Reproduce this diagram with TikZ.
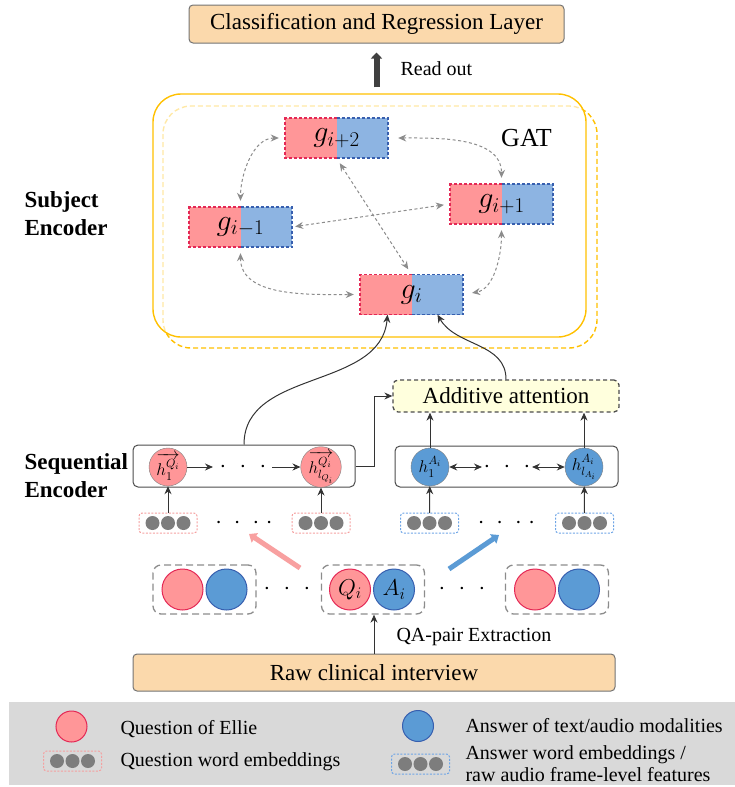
\RequirePackage{fix-cm}
\documentclass[tikz,border=0pt]{standalone}
\usepackage{amsmath}
\usepackage{fontspec}
\setmainfont{Liberation Serif}
\usetikzlibrary{arrows.meta,calc}
\definecolor{qfill}{RGB}{255,150,152}
\definecolor{qborder}{RGB}{228,40,85}
\definecolor{afill}{RGB}{141,180,226}
\definecolor{ablue}{RGB}{91,155,213}
\definecolor{aborder}{RGB}{55,95,175}
\definecolor{boxbg}{RGB}{251,217,172}
\definecolor{attbg}{RGB}{255,255,221}
\definecolor{gatline}{RGB}{255,192,0}
\definecolor{legendbg}{RGB}{217,217,217}
\definecolor{embdot}{RGB}{125,125,125}
\definecolor{qembline}{RGB}{245,160,160}
\definecolor{aembline}{RGB}{110,165,230}
\definecolor{pinkarrow}{RGB}{248,160,160}
\def\Half{51.5}
\newcommand{\fs}[1]{\fontsize{#1}{#1}\selectfont}
\newcommand{\gcell}[4]{%
  \fill[qfill] (#2-\Half,#3-20) rectangle (#2,#3+20);
  \fill[afill] (#2,#3-20) rectangle (#2+\Half,#3+20);
  \draw[qborder,gdash] (#2,#3+20) -| (#2-\Half,#3-20) -- (#2,#3-20);
  \draw[aborder,gdash] (#2,#3+20) -| (#2+\Half,#3-20) -- (#2,#3-20);
  \node[gtext] (#1) at (#2,#3) {#4};
}
\tikzset{
  gdash/.style={dash pattern=on 3pt off 2pt, line width=1.2pt},
  gtext/.style={minimum width=103, minimum height=40, inner sep=0, font=\fs{30}},
  titlebox/.style={draw=black!55, fill=boxbg, rounded corners=4pt, line width=1pt, inner sep=2pt, font=\fs{23}},
  attbox/.style={draw=black!70, fill=attbg, dash pattern=on 4pt off 3pt, rounded corners=5pt, line width=1.3pt, inner sep=2pt, font=\fs{23}},
  encbox/.style={draw=black!70, rounded corners=5pt, line width=1pt},
  hq/.style={circle, draw=black!50, fill=qfill, minimum size=38, inner sep=0, font=\fs{17}},
  ha/.style={circle, draw=black!50, fill=ablue, minimum size=38, inner sep=0, font=\fs{17}},
  pair/.style={draw=black!45, dash pattern=on 7pt off 4pt, rounded corners=8pt, line width=1.3pt, minimum width=103, minimum height=49},
  qball/.style={circle, draw=qborder, fill=qfill, minimum size=41, inner sep=0, line width=1pt, font=\fs{23}},
  aball/.style={circle, draw=aborder, fill=ablue, minimum size=41, inner sep=0, line width=1pt, font=\fs{23}},
  gatedge/.style={black!45, dash pattern=on 3pt off 2.5pt, line width=1pt, {Stealth[length=8pt,width=7pt]}-{Stealth[length=8pt,width=7pt]}, shorten <=6pt, shorten >=6pt},
  link/.style={black!80, line width=1pt, -{Stealth[length=8pt,width=7pt]}},
  bilink/.style={black!80, line width=1pt, {Stealth[length=8pt,width=7pt]}-{Stealth[length=8pt,width=7pt]}},
  fatarrow/.style={line width=5pt, -{Triangle[length=7pt,width=11pt]}},
  readout/.style={black!75, line width=6pt, -{Triangle[length=6pt,width=11pt]}, shorten <=6pt, shorten >=9pt},
  dots/.style={font=\fs{24}, inner sep=0},
  side/.style={anchor=west, align=left, font={\fontsize{23}{28}\selectfont\bfseries}},
  legtext/.style={anchor=west, align=left, font={\fontsize{20}{22}\selectfont}},
  embed/.pic={
    \draw[pic actions, dash pattern=on 2pt off 1.5pt, line width=1pt, rounded corners=3pt] (-29,-10) rectangle (29,10);
    \fill[embdot] (-15.5,0) circle (7) (0,0) circle (7) (15.5,0) circle (7);
    \coordinate (-top) at (0,10);
  }
}

\begin{document}
\begin{tikzpicture}[x=1pt,y=1pt]
\useasboundingbox (0,0) rectangle (735,-787);
\fill[legendbg] (9,-702) rectangle (735,-785);

\node[titlebox, minimum width=375, minimum height=38] (cls) at (376.5,-24) {Classification and Regression Layer};
\draw[gatline, dash pattern=on 5pt off 3pt, line width=1.4pt, rounded corners=28pt] (163,-106) rectangle (597,-348);
\node[draw=gatline, fill=white, fill opacity=0.65, line width=1.4pt, rounded corners=28pt, minimum width=433, minimum height=243] (gat) at (369.5,-215.5) {};
\draw[readout] (cls.south |- gat.north) -- (cls.south);
\node[anchor=west, font=\fs{20}] (readtext) at (397,-69) {Read out};
\node[font=\fs{26}] (gatname) at (526.5,-138) {GAT};

\gcell{gp2}{336.5}{-138}{$g_{i+2}$}
\gcell{gm1}{240.5}{-227}{$g_{i-1}$}
\gcell{gp1}{501.5}{-204}{$g_{i+1}$}
\gcell{gi}{411.5}{-294.5}{$g_i$}
\draw[gatedge] (gp2.west) to[out=180,in=90] (gm1.north);
\draw[gatedge, shorten <=10pt] (gp2.east) to[out=0,in=90] (gp1.north);
\draw[gatedge] (gp2.south) -- (gi.north);
\draw[gatedge, shorten <=3pt] (gm1.east) -- (gp1.west);
\draw[gatedge] (gm1.south) to[out=-90,in=180] (gi.west);
\draw[gatedge, shorten >=9pt] (gp1.south) to[out=-90,in=10] (gi.east);

\node[side] (subj) at (21,-214) {Subject\\Encoder};
\node[side] (seq) at (21,-476) {Sequential\\Encoder};

\node[attbox, minimum width=226, minimum height=32] (att) at (506,-396) {Additive attention};

\node[encbox, minimum width=222, minimum height=42] (qenc) at (244,-466) {};
\node[hq] (hq1) at (168,-467) {$\overrightarrow{h_1^{Q_i}}$};
\node[hq] (hqn) at (321,-467) {$\overrightarrow{h_{l_{Q_i}}^{Q_i}}$};
\coordinate (qr) at (213,-467);
\coordinate (ql) at (272,-467);
\node[dots] (qdots) at (243,-467) {$\cdot\mkern6mu\cdot\mkern6mu\cdot$};
\draw[link] (hq1) -- (qr);
\draw[link] (ql) -- (hqn);

\node[encbox, minimum width=223, minimum height=41] (aenc) at (506.5,-466.5) {};
\node[ha] (ha1) at (430,-467) {$h_1^{A_i}$};
\node[ha] (han) at (584,-467) {$h_{l_{A_i}}^{A_i}$};
\coordinate (ar) at (482,-467);
\coordinate (al) at (532,-467);
\node[dots] (adots) at (507,-467) {$\cdot\mkern6mu\cdot\mkern6mu\cdot$};
\draw[bilink] (ha1) -- (ar);
\draw[bilink] (al) -- (han);

\draw[link] (ha1) -- (ha1 |- att.south);
\draw[link] (han) -- (han |- att.south);
\draw[link] (qenc.east) -- ++(19,0) |- (att.west);
\draw[link] (qenc.north) to[out=90,in=-95] ([xshift=-24pt]gi.south);
\draw[link] (att.north) to[out=90,in=-60] ([xshift=26pt]gi.south);

\pic[draw=qembline] (qe1) at (168,-523) {embed};
\pic[draw=qembline] (qen) at (321,-523) {embed};
\pic[draw=aembline] (ae1) at (429.5,-523) {embed};
\pic[draw=aembline] (aen) at (584.5,-523) {embed};
\node[dots] (qedots) at (244,-523) {$\cdot\mkern5mu\cdot\mkern5mu\cdot\mkern5mu\cdot$};
\node[dots] (aedots) at (506.5,-523) {$\cdot\mkern5mu\cdot\mkern5mu\cdot\mkern5mu\cdot$};
\draw[link] (qe1-top) -- (hq1);
\draw[link] (qen-top) -- (hqn);
\draw[link] (ae1-top) -- (ha1);
\draw[link] (aen-top) -- (han);

\node[pair] (pair1) at (204.5,-589.5) {};
\node[qball] (q1) at ([xshift=-22pt]pair1.center) {};
\node[aball] (a1) at ([xshift=22pt]pair1.center) {};
\node[pair] (pair2) at (373,-589.5) {};
\node[qball] (q2) at ([xshift=-23pt]pair2.center) {$Q_i$};
\node[aball] (a2) at ([xshift=21pt]pair2.center) {$A_i$};
\node[pair] (pair3) at (557,-589.5) {};
\node[qball] (q3) at ([xshift=-22pt]pair3.center) {};
\node[aball] (a3) at ([xshift=22pt]pair3.center) {};
\node[dots] (pdots1) at (287,-589) {$\cdot\mkern6mu\cdot\mkern6mu\cdot$};
\node[dots] (pdots2) at (462,-589) {$\cdot\mkern6mu\cdot\mkern6mu\cdot$};

\coordinate (pinkfrom) at (300,-568);
\coordinate (pinkto) at (249,-534);
\coordinate (bluefrom) at (449,-569);
\coordinate (blueto) at (499,-535);
\draw[fatarrow, pinkarrow] (pinkfrom) -- (pinkto);
\draw[fatarrow, ablue] (bluefrom) -- (blueto);

\node[titlebox, minimum width=482, minimum height=37] (raw) at (374,-672.5) {Raw clinical interview};
\draw[link] (raw.north) -- (raw.north |- pair2.south);
\node[anchor=west, font=\fs{20}] (qaext) at (393,-637) {QA-pair Extraction};

\node[qball, minimum size=31] (lq) at (71.5,-726.5) {};
\node[legtext] (lqtext) at (117,-729) {Question of Ellie};
\pic[draw=qembline] (lqe) at (72.5,-761) {embed};
\node[legtext] (lqetext) at (117,-762) {Question word embeddings};
\node[aball, minimum size=31] (la) at (418,-726) {};
\node[legtext] (latext) at (462,-726) {Answer of text/audio modalities};
\pic[draw=aembline] (lae) at (420.5,-764) {embed};
\node[legtext] (laetext) at (462,-764) {Answer word embeddings /\\raw audio frame-level features};
\end{tikzpicture}
\end{document}
